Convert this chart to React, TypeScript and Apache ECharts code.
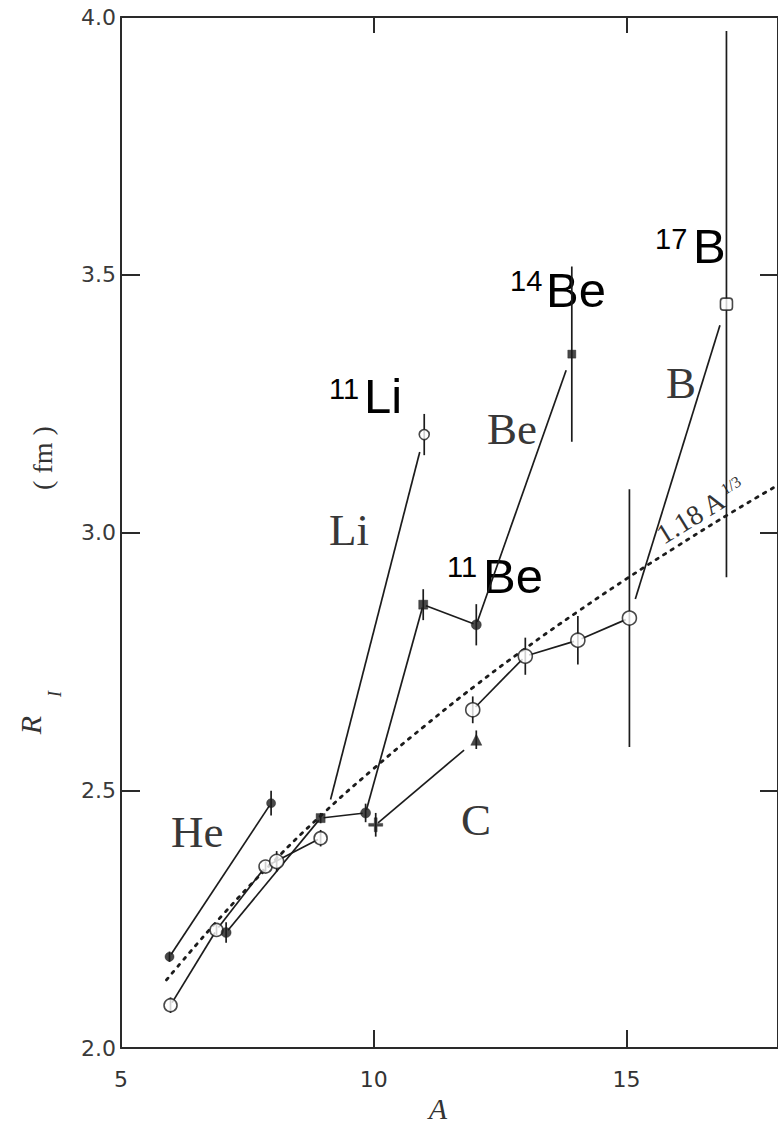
import React, { useEffect, useRef } from "react";
import * as echarts from "echarts";

// Interaction radii R_I (fm) against mass number A, grouped by element.
const heA = [5.96, 7.97];
const heR = [2.177, 2.475];
const heErr = [0.01, 0.024];

const liA = [5.98, 6.89, 7.86, 8.95, 11.0];
const liR = [2.083, 2.229, 2.352, 2.407, 3.19];
const liErr = [0.015, 0.01, 0.01, 0.016, 0.04];

const beA = [7.08, 8.95, 9.84, 10.98, 12.03, 13.92];
const beR = [2.224, 2.446, 2.456, 2.86, 2.821, 3.346];
const beErr = [0.02, 0.01, 0.018, 0.03, 0.04, 0.17];
const beSymbols = ["circle", "square", "circle", "square", "circle", "square"];

const b8A = [8.08];
const b8R = [2.362];
const b8Err = [0.02];

const bA = [11.96, 13.0, 14.04, 15.06, 16.98];
const bR = [2.656, 2.76, 2.791, 2.834, 3.443];
const bErr = [0.026, 0.036, 0.047, 0.25, 0.53];
const bSymbols = ["circle", "circle", "circle", "circle", "roundRect"];

const cA = [10.04, 12.03];
const cR = [2.433, 2.598];
const cErr = [0.023, 0.018];
const cSymbols = ["cross", "triangle"];

// 1.18 A^(1/3) reference curve
const fitA = [5.9, 7, 8, 9, 10, 11, 12, 13, 14, 15, 16, 17, 18];
const fitR = [2.132, 2.257, 2.36, 2.455, 2.542, 2.624, 2.702, 2.775, 2.844, 2.91, 2.973, 3.034, 3.092];

const xTickLabels = [5, 10, 15];
const yTickLabels = [2.0, 2.5, 3.0, 3.5, 4.0];

const INK = "#1c1c1c";
const AXIS = "#2a2a2a";
const CROSS = "path://M4,0H6V4H10V6H6V10H4V6H0V4H4Z";

// connecting lines stop short of the markers by these pixel gaps [start, end]
const chains = [
  { a: heA, r: heR, gaps: [[3, 3]] },
  { a: liA, r: liR, gaps: [[3, 3], [3, 3], [3, 3], [40, 18]] },
  { a: beA, r: beR, gaps: [[3, 3], [3, 3], [3, 3], [3, 3], [3, 17]] },
  { a: bA, r: bR, gaps: [[4, 4], [4, 4], [4, 4], [20, 22]] },
  { a: cA, r: cR, gaps: [[3, 16]] },
];

const segments: number[][] = [];
const segmentGaps: number[][] = [];
chains.forEach((c) => {
  for (let i = 0; i + 1 < c.a.length; i++) {
    segments.push([c.a[i], c.r[i], c.a[i + 1], c.r[i + 1]]);
    segmentGaps.push(c.gaps[i] || [3, 3]);
  }
});

const errorBars: number[][] = [];
[
  [heA, heR, heErr],
  [liA, liR, liErr],
  [beA, beR, beErr],
  [b8A, b8R, b8Err],
  [bA, bR, bErr],
  [cA, cR, cErr],
].forEach(([a, r, e]) => {
  a.forEach((v, i) => errorBars.push([v, r[i], e[i]]));
});

const resolveSymbol = (s: string) => (s === "cross" ? CROSS : s);

const openStyle = { color: "#ffffff", borderColor: INK, borderWidth: 1.6 };
const filledStyle = { color: INK, borderColor: INK, borderWidth: 0.5 };

const SANS = "Liberation Sans, Arial, sans-serif";
const SERIF = "Liberation Serif, Times New Roman, serif";

function textEl(text: string, x: number, y: number, style: any, extra: any = {}) {
  return {
    type: "text",
    x,
    y,
    ...extra,
    style: {
      text,
      textAlign: "left",
      textVerticalAlign: "middle",
      align: "left",
      verticalAlign: "middle",
      ...style,
    },
  };
}

function bigLabel(sup: string, main: string, sx: number, sy: number, mx: number, my: number) {
  return [
    textEl(sup, sx, sy, { fill: "#000", fontSize: 29, fontFamily: SANS }),
    textEl(main, mx, my, { fill: "#000", fontSize: 49, fontFamily: SANS }),
  ];
}

function serifLabel(text: string, x: number, y: number) {
  return textEl(text, x, y, { fill: "#383838", fontSize: 45, fontFamily: SERIF });
}

function buildOption(): any {
  const axisLine = { show: true, onZero: false, lineStyle: { color: AXIS, width: 2 } };
  return {
    animation: false,
    backgroundColor: "#ffffff",
    grid: { left: 121, top: 17, width: 664.7, height: 1031, containLabel: false },
    xAxis: [
      {
        type: "value",
        min: 5,
        max: 18,
        interval: 5,
        position: "bottom",
        axisLine,
        axisTick: { show: true, inside: true, length: 18, lineStyle: { color: AXIS, width: 2 } },
        axisLabel: {
          show: true,
          margin: 20,
          fontSize: 22,
          fontFamily: "DejaVu Sans, sans-serif",
          color: "#333",
          showMaxLabel: false,
          formatter: (v: number) => (xTickLabels.includes(v) ? String(v) : ""),
        },
        splitLine: { show: false },
      },
      {
        type: "value",
        min: 5,
        max: 18,
        interval: 5,
        position: "top",
        axisLine,
        axisTick: { show: true, inside: true, length: 16, lineStyle: { color: AXIS, width: 2 } },
        axisLabel: { show: false },
        splitLine: { show: false },
      },
    ],
    yAxis: [
      {
        type: "value",
        min: 2,
        max: 4,
        interval: 0.5,
        position: "left",
        axisLine,
        axisTick: { show: true, inside: true, length: 19, lineStyle: { color: AXIS, width: 2 } },
        axisLabel: {
          show: true,
          margin: 5,
          fontSize: 22,
          fontFamily: "DejaVu Sans, sans-serif",
          color: "#3a3a3a",
          formatter: (v: number) => (yTickLabels.some((t) => Math.abs(t - v) < 1e-9) ? v.toFixed(1) : ""),
        },
        splitLine: { show: false },
      },
      {
        type: "value",
        min: 2,
        max: 4,
        interval: 0.5,
        position: "right",
        axisLine,
        axisTick: { show: true, inside: true, length: 18, lineStyle: { color: AXIS, width: 2 } },
        axisLabel: { show: false },
        splitLine: { show: false },
      },
    ],
    series: [
      {
        type: "line",
        name: "1.18 A^1/3",
        data: fitA.map((a, i) => [a, fitR[i]]),
        smooth: true,
        showSymbol: false,
        symbol: "none",
        lineStyle: { color: INK, width: 2.8, type: [2.5, 6.5], cap: "round" },
        z: 1,
        silent: true,
      },
      {
        type: "custom",
        name: "links",
        data: segments,
        encode: { x: [0, 2], y: [1, 3] },
        clip: false,
        z: 2,
        silent: true,
        renderItem: (params: any, api: any) => {
          const p1 = api.coord([api.value(0), api.value(1)]);
          const p2 = api.coord([api.value(2), api.value(3)]);
          const [g1, g2] = segmentGaps[params.dataIndex];
          const dx = p2[0] - p1[0];
          const dy = p2[1] - p1[1];
          const len = Math.hypot(dx, dy) || 1;
          const ux = dx / len;
          const uy = dy / len;
          return {
            type: "line",
            shape: { x1: p1[0] + ux * g1, y1: p1[1] + uy * g1, x2: p2[0] - ux * g2, y2: p2[1] - uy * g2 },
            style: { stroke: INK, lineWidth: 1.7 },
          };
        },
      },
      {
        type: "custom",
        name: "errors",
        data: errorBars,
        encode: { x: 0, y: 1 },
        clip: false,
        z: 2,
        silent: true,
        renderItem: (_p: any, api: any) => {
          const a = api.value(0);
          const r = api.value(1);
          const e = api.value(2);
          const top = api.coord([a, r + e]);
          const bot = api.coord([a, r - e]);
          return {
            type: "line",
            shape: { x1: top[0], y1: top[1], x2: bot[0], y2: bot[1] },
            style: { stroke: INK, lineWidth: 1.7 },
          };
        },
      },
      {
        type: "scatter",
        name: "He",
        data: heA.map((a, i) => [a, heR[i]]),
        symbol: "circle",
        symbolSize: 9,
        itemStyle: filledStyle,
        z: 3,
      },
      {
        type: "scatter",
        name: "Li",
        data: liA.map((a, i) => [a, liR[i]]),
        symbol: "circle",
        symbolSize: (_v: any, p: any) => (p.dataIndex === liA.length - 1 ? 10 : 13),
        itemStyle: openStyle,
        z: 3,
      },
      {
        type: "scatter",
        name: "Be",
        data: beA.map((a, i) => ({ value: [a, beR[i]], symbol: beSymbols[i] })),
        symbolSize: (_v: any, p: any) =>
          beSymbols[p.dataIndex] === "square" ? (p.dataIndex === beA.length - 1 ? 8 : 9) : 10,
        itemStyle: filledStyle,
        z: 3,
      },
      {
        type: "scatter",
        name: "B",
        data: [
          ...b8A.map((a, i) => ({ value: [a, b8R[i]], symbol: "circle" })),
          ...bA.map((a, i) => ({ value: [a, bR[i]], symbol: bSymbols[i] })),
        ],
        symbolSize: (_v: any, p: any) => (p.dataIndex === b8A.length + bA.length - 1 ? 12 : 14),
        itemStyle: openStyle,
        z: 3,
      },
      {
        type: "scatter",
        name: "C",
        data: cA.map((a, i) => ({ value: [a, cR[i]], symbol: resolveSymbol(cSymbols[i]) })),
        symbolSize: (_v: any, p: any) => (cSymbols[p.dataIndex] === "cross" ? 14 : 11),
        itemStyle: filledStyle,
        z: 3,
      },
    ],
    graphic: [
      ...bigLabel("11", "Li", 329, 389, 364, 396),
      ...bigLabel("14", "Be", 510, 281, 546, 290),
      ...bigLabel("11", "Be", 447, 567, 483, 576),
      ...bigLabel("17", "B", 655, 239, 693, 246),
      serifLabel("He", 171, 832),
      serifLabel("Li", 329, 530),
      serifLabel("Be", 487, 429),
      serifLabel("B", 666, 383),
      serifLabel("C", 461, 820),
      textEl(
        "{m|1.18 A}{s|1/3}",
        657,
        538,
        {
          fill: "#333",
          fontFamily: SERIF,
          fontSize: 28,
          backgroundColor: "#ffffff",
          padding: [0, 2, 0, 2],
          lineHeight: 22,
          rich: {
            m: { fontSize: 28, fontFamily: SERIF, fill: "#333", lineHeight: 22 },
            s: { fontSize: 16, fontFamily: SERIF, fill: "#333", lineHeight: 22, padding: [0, 0, 13, 2] },
          },
        },
        { rotation: 0.55 }
      ),
      textEl(
        "A",
        438,
        1108,
        { fill: "#333", fontSize: 30, fontStyle: "italic", fontFamily: SERIF, textAlign: "center", align: "center" }
      ),
      textEl(
        "R",
        30,
        725,
        { fill: "#333", fontSize: 30, fontStyle: "italic", fontFamily: SERIF, textAlign: "center", align: "center" },
        { rotation: Math.PI / 2 }
      ),
      textEl(
        "I",
        55,
        694,
        { fill: "#333", fontSize: 18, fontStyle: "italic", fontFamily: SERIF, textAlign: "center", align: "center" },
        { rotation: Math.PI / 2 }
      ),
      textEl(
        "( fm )",
        42,
        458,
        { fill: "#333", fontSize: 28, fontFamily: SERIF, textAlign: "center", align: "center" },
        { rotation: Math.PI / 2 }
      ),
    ],
  };
}

export default function App() {
  const ref = useRef<HTMLDivElement>(null);
  useEffect(() => {
    if (!ref.current) return;
    const chart = echarts.init(ref.current, null, { renderer: "svg" });
    chart.setOption(buildOption());
    return () => chart.dispose();
  }, []);
  return (
    <div
      ref={ref}
      style={{ position: "fixed", left: 0, top: 0, width: 778, height: 1147, background: "#ffffff" }}
    />
  );
}
